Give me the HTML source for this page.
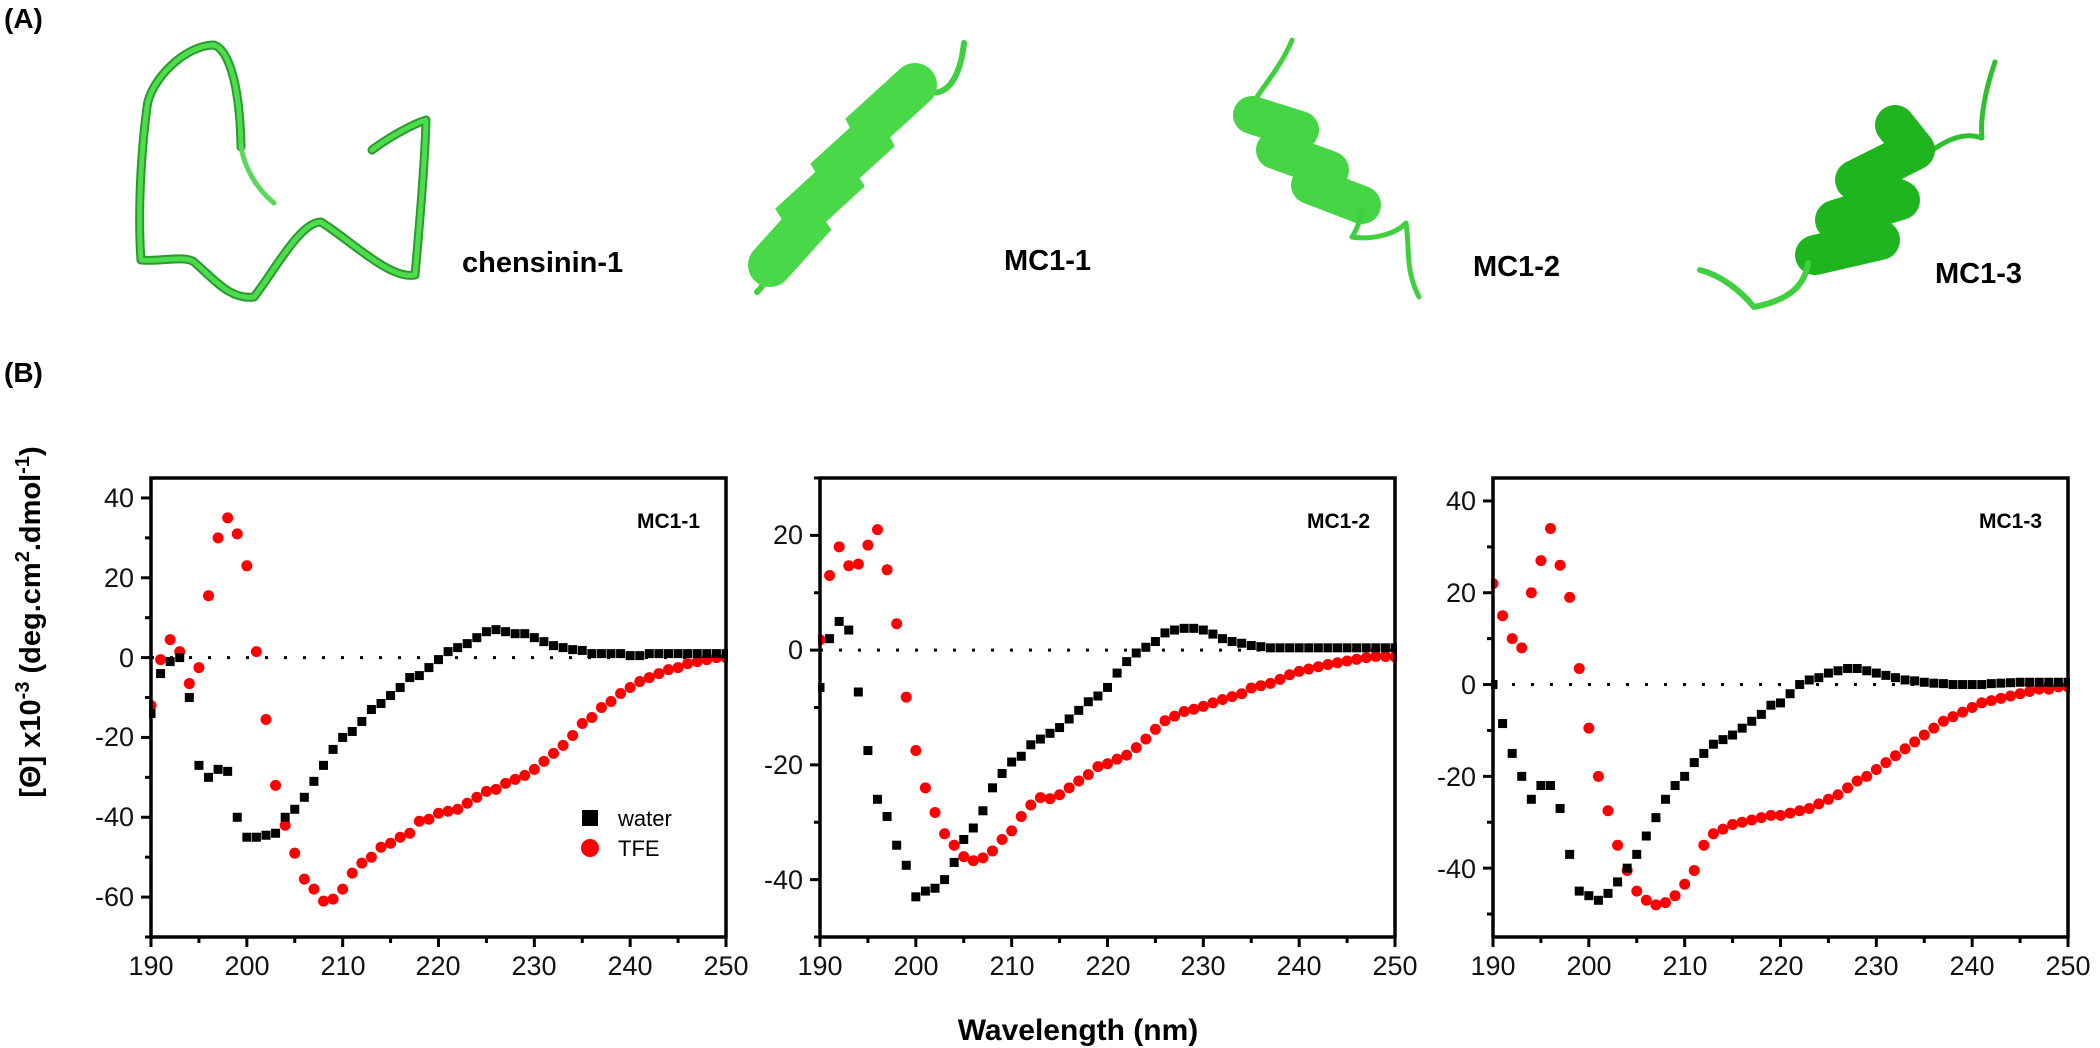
<!DOCTYPE html>
<html><head><meta charset="utf-8">
<style>
html,body{margin:0;padding:0;background:#fff;}
svg{display:block;}
text{font-family:"Liberation Sans",Arial,sans-serif;}
.tk{font-size:27px;fill:#111;}
.b{font-weight:bold;}
</style></head>
<body>
<svg id="s" width="2100" height="1048" viewBox="0 0 2100 1048" xmlns="http://www.w3.org/2000/svg">
<rect width="2100" height="1048" fill="#fff"/>
<text x="4" y="28" font-size="28" class="b">(A)</text>
<text x="4" y="382" font-size="28" class="b">(B)</text>

<!-- structures -->
<g fill="none" stroke-linecap="round" stroke-linejoin="round">
<path d="M241,147 C240,90 230,50 214,45 C185,45 150,80 147,107 C140,160 138,220 141,260 C160,262 185,255 194,262 C215,280 230,300 254,297 C275,270 300,222 321,222 C350,240 390,280 415,275 C420,220 425,160 426,120 C410,125 385,140 372,150" stroke="#2a9a2a" stroke-width="9"/>
<path d="M241,147 C240,90 230,50 214,45 C185,45 150,80 147,107 C140,160 138,220 141,260 C160,262 185,255 194,262 C215,280 230,300 254,297 C275,270 300,222 321,222 C350,240 390,280 415,275 C420,220 425,160 426,120 C410,125 385,140 372,150" stroke="#4ddc4d" stroke-width="5"/>
<path d="M241,147 C245,170 258,190 274,203" stroke="#5ad85a" stroke-width="5"/>
<path d="M757,292 C770,280 780,250 790,230 L924,90 C945,100 960,80 964,43" stroke="#3fcf3f" stroke-width="6"/>
<path d="M770,265 L815,215 L790,225 L850,170 L825,180 L880,130 L860,135 L915,85" stroke="#48d848" stroke-width="44" stroke-linejoin="miter"/>
<path d="M1292,40 C1280,70 1255,95 1252,107" stroke="#3fcf3f" stroke-width="5"/>
<path d="M1252,115 L1300,130 L1275,150 L1330,170 L1310,185 L1362,205" stroke="#44d444" stroke-width="38"/>
<path d="M1362,210 C1360,225 1352,237 1352,237 C1370,240 1395,235 1406,223 C1410,250 1405,270 1419,297" stroke="#3fcf3f" stroke-width="5"/>
<path d="M1995,62 C1985,90 1980,120 1982,138 C1960,130 1940,145 1928,153" stroke="#2fbf2f" stroke-width="5"/>
<path d="M1895,125 L1915,150 L1855,180 L1900,200 L1835,220 L1880,240 L1815,255" stroke="#1eb51e" stroke-width="40"/>
<path d="M1808,263 C1805,285 1790,300 1754,307 C1740,290 1720,275 1700,270" stroke="#3fcf3f" stroke-width="6"/>
</g>
<text x="462" y="272" font-size="29" class="b">chensinin-1</text>
<text x="1004" y="270" font-size="29" class="b">MC1-1</text>
<text x="1473" y="276" font-size="29" class="b">MC1-2</text>
<text x="1935" y="283" font-size="29" class="b">MC1-3</text>

<!-- y axis title -->
<text transform="translate(40,622) rotate(-90)" text-anchor="middle" font-size="29" class="b">[Θ] x10<tspan dy="-11" font-size="20">-3</tspan><tspan dy="11"> (deg.cm</tspan><tspan dy="-11" font-size="20">2</tspan><tspan dy="11">.dmol</tspan><tspan dy="-11" font-size="20">-1</tspan><tspan dy="11">)</tspan></text>
<text x="1078" y="1040" text-anchor="middle" font-size="30" class="b">Wavelength (nm)</text>

<g id="p1"></g><g id="p2"></g><g id="p3"></g>

<g class="tk" text-anchor="end">
<text x="134" y="507">40</text><text x="134" y="587">20</text><text x="134" y="667">0</text>
<text x="134" y="746">-20</text><text x="134" y="826">-40</text><text x="134" y="906">-60</text>
</g>
<g class="tk" text-anchor="end">
<text x="803" y="544">20</text><text x="803" y="659">0</text><text x="803" y="774">-20</text><text x="803" y="889">-40</text>
</g>
<g class="tk" text-anchor="end">
<text x="1476" y="510">40</text><text x="1476" y="602">20</text><text x="1476" y="694">0</text>
<text x="1476" y="786">-20</text><text x="1476" y="878">-40</text>
</g>
<text x="700" y="528" font-size="21" class="b" text-anchor="end">MC1-1</text>
<text x="1370" y="528" font-size="21" class="b" text-anchor="end">MC1-2</text>
<text x="2042" y="528" font-size="21" class="b" text-anchor="end">MC1-3</text>
<rect x="582" y="810" width="16" height="16" fill="#000"/>
<text x="618" y="826" font-size="22">water</text>
<circle cx="590" cy="848" r="9" fill="#f00"/>
<text x="618" y="856" font-size="22">TFE</text>
<g class="tk" text-anchor="middle">
<text x="151" y="975">190</text><text x="247" y="975">200</text><text x="343" y="975">210</text><text x="438" y="975">220</text><text x="534" y="975">230</text><text x="630" y="975">240</text><text x="726" y="975">250</text>
<text x="820" y="975">190</text><text x="916" y="975">200</text><text x="1012" y="975">210</text><text x="1108" y="975">220</text><text x="1203" y="975">230</text><text x="1299" y="975">240</text><text x="1395" y="975">250</text>
<text x="1493" y="975">190</text><text x="1589" y="975">200</text><text x="1685" y="975">210</text><text x="1781" y="975">220</text><text x="1876" y="975">230</text><text x="1972" y="975">240</text><text x="2068" y="975">250</text>
</g>
</svg>
<script>
var NS="http://www.w3.org/2000/svg";
function el(p,t,a){var e=document.createElementNS(NS,t);for(var k in a)e.setAttribute(k,a[k]);p.appendChild(e);return e;}
var W1=[-14,-4,-1,0,-10,-27,-30,-28,-28.5,-40,-45,-45,-44.5,-44,-40,-38,-35,-31,-27,-23,-20,-18.5,-16,-13,-11.5,-9.5,-7.5,-5,-4.5,-2.5,-0.5,1.5,2.5,3.5,5,6.5,7,6.5,6,6,5,4,3,2.5,2,1.8,1,1,1,1,0.5,0.5,1,1,1,1,1,1,1,1,1];
var T1=[-12,-0.5,4.5,1.5,-6.5,-2.5,15.5,30,35,31,23,1.5,-15.5,-32,-42,-49,-55.5,-58,-61,-60.5,-58,-54,-51.5,-50,-47.5,-46.5,-45,-44,-41,-40.5,-39,-38.5,-38,-36.5,-35,-33.5,-33,-31.5,-30.5,-29.5,-28,-26,-24,-22,-19.5,-16.5,-15,-12.5,-11,-9,-7.5,-6,-5,-4,-3,-2.5,-1.5,-1,-0.5,0,0];
var W2=[-6.5,2,5,3.5,-7.3,-17.5,-26,-29,-34,-37.5,-43,-42,-41.5,-40,-37,-33,-31,-28,-24,-21.5,-19.5,-18.5,-16.5,-15.5,-14.5,-13.5,-12,-10.5,-9,-8,-6.5,-4,-2,-0.5,0.5,1.5,3,3.5,3.8,3.8,3.5,2.8,2,1.5,1.2,0.8,0.6,0.4,0.4,0.4,0.4,0.4,0.4,0.4,0.4,0.4,0.4,0.4,0.4,0.4,0.4];
var T2=[1.8,13,18,14.7,15,18.3,21,14,4.6,-8.2,-17.5,-24,-28.3,-32,-34,-36,-36.7,-36.2,-35,-33,-31.5,-29,-27,-25.7,-25.9,-25.2,-24,-22.8,-21.7,-20.3,-19.8,-19,-18.3,-17,-15.5,-13.8,-12.3,-11.5,-10.7,-10.3,-9.8,-9.2,-8.6,-8.1,-7.6,-6.6,-6.2,-5.8,-5.1,-4.3,-3.7,-3.3,-2.9,-2.5,-2.2,-1.9,-1.6,-1.3,-1.1,-1.1,-1.2];
var W3=[0,-8.5,-15,-20,-25,-22,-22,-27,-37,-45,-46,-47,-45.5,-43,-40,-37,-33,-29,-25,-22,-20,-17,-15,-13,-12,-11,-9.5,-8,-6.5,-4.5,-4,-2,0,1,1.5,2.5,3,3.5,3.5,3,2.5,2,1.5,1,0.8,0.5,0.3,0.2,0,0,0,0,0.2,0.3,0.4,0.5,0.5,0.5,0.5,0.5,0.5];
var T3=[22,15,10,8,20,27,34,26,19,3.5,-9.5,-20,-27.5,-35,-40.5,-45,-47,-48,-47.5,-46,-43.5,-40.5,-35,-32.5,-31.5,-30.5,-30,-29.5,-29,-28.5,-28.5,-28,-27.5,-27,-26,-25,-24,-22.5,-21,-20,-18.5,-17,-15.5,-14,-12.5,-11,-9.5,-8,-7,-6,-5,-4,-3.5,-3,-2.5,-2,-1.5,-1,-1,-0.5,-0.5];
var PP=[{g:"p1",x0:151,x1:726,ymax:45,ymin:-70,W:W1,T:T1},
       {g:"p2",x0:820,x1:1395,ymax:30,ymin:-50,W:W2,T:T2},
       {g:"p3",x0:1493,x1:2068,ymax:45,ymin:-55,W:W3,T:T3}];
var YT=478,YB=937;
PP.forEach(function(p){
  var g=document.getElementById(p.g);
  var sx=function(v){return p.x0+(v-190)/60*(p.x1-p.x0);};
  var sy=function(v){return YT+(p.ymax-v)/(p.ymax-p.ymin)*(YB-YT);};
  el(g,"line",{x1:p.x0,x2:p.x1,y1:sy(0),y2:sy(0),stroke:"#000","stroke-width":3,"stroke-dasharray":"3 16"});
  for(var i=0;i<61;i++){
    el(g,"circle",{cx:sx(190+i),cy:sy(p.T[i]),r:5.5,fill:"#f00"});
  }
  for(var i=0;i<61;i++){
    el(g,"rect",{x:sx(190+i)-4.5,y:sy(p.W[i])-4.5,width:9,height:9,fill:"#000"});
  }
  el(g,"rect",{x:p.x0-20,y:YT-30,width:18,height:YB-YT+40,fill:"#fff"});
  el(g,"rect",{x:p.x1+2,y:YT-30,width:18,height:YB-YT+40,fill:"#fff"});
  el(g,"rect",{x:p.x0,y:YT,width:p.x1-p.x0,height:YB-YT,fill:"none",stroke:"#000","stroke-width":3.5});
  for(var v=190;v<=250;v+=5){
    el(g,"line",{x1:sx(v),x2:sx(v),y1:YB,y2:YB+(v%10==0?10:6),stroke:"#000","stroke-width":3});
  }
  for(var v=Math.ceil(p.ymin/10)*10;v<=p.ymax;v+=10){
    var maj=(v%20==0);
    el(g,"line",{x1:p.x0,x2:p.x0-(maj?10:6),y1:sy(v),y2:sy(v),stroke:"#000","stroke-width":3});
  }
});
</script>
</body></html>
